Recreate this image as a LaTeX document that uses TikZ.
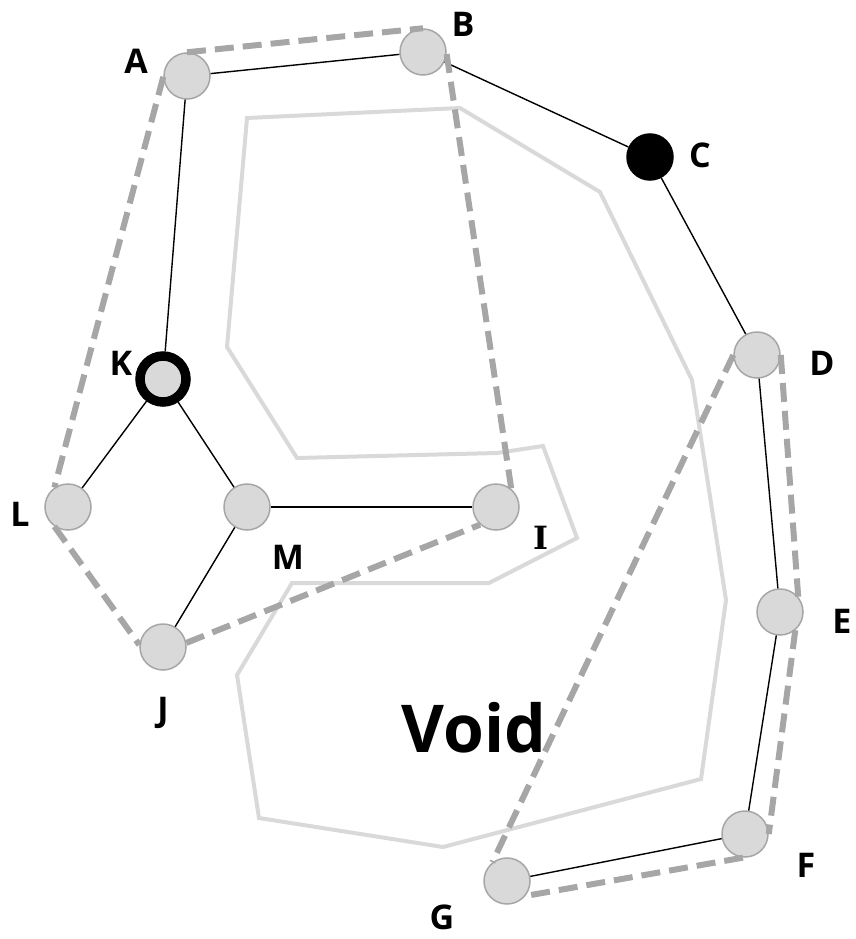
\documentclass[tikz,border=0pt]{standalone}
\usepackage{fontspec}
\setmainfont{Open Sans}
\newfontfamily\slabfont{DejaVu Serif}
\begin{document}
\begin{tikzpicture}[x=1pt,y=-1pt,
  vertex/.style={circle,minimum size=46pt,inner sep=0pt,fill=nodegray,draw=rimgray,line width=1.5pt},
  blackvertex/.style={vertex,fill=black,draw=black},
  rootvertex/.style={vertex,draw=black,line width=9.5pt,minimum size=46pt},
  link/.style={black,line width=1.4pt},
  route/.style={draw=routegray,line width=6pt,dash pattern=on 19pt off 9pt},
  voidline/.style={draw=voidgray,line width=4pt,line join=miter},
  lbl/.style={font=\bfseries\fontsize{34}{40}\selectfont,inner sep=0pt}
]
\definecolor{nodegray}{HTML}{D9D9D9}
\definecolor{rimgray}{HTML}{A6A6A6}
\definecolor{routegray}{HTML}{A6A6A6}
\definecolor{voidgray}{HTML}{D9D9D9}
\useasboundingbox (0,0) rectangle (855,939);

% outline of the empty region
\draw[voidline] (247,118) -- (460,108) -- (600,192) -- (692,380) -- (726,600)
  -- (701,779) -- (443,847) -- (259,818) -- (237,675) -- (292,583) -- (489,583)
  -- (577,538) -- (543,446) -- (497,453) -- (297,458) -- (227,347) -- cycle;
\node[font=\bfseries\fontsize{66}{78}\selectfont,inner sep=0pt] (void) at (474,728) {Void};

% vertices
\node[vertex] (A) at (187,76) {};
\node[vertex] (B) at (423,52) {};
\node[blackvertex] (C) at (650,157) {};
\node[vertex] (D) at (757,355) {};
\node[vertex] (E) at (780,612) {};
\node[vertex] (F) at (745,834) {};
\node[vertex] (G) at (507,881) {};
\node[vertex] (I) at (496,507) {};
\node[vertex] (J) at (163,647) {};
\node[rootvertex] (K) at (163,379) {};
\node[vertex] (L) at (68,507) {};
\node[vertex] (M) at (247,507) {};

% edges
\draw[link] (A) -- (B);
\draw[link] (B) -- (C);
\draw[link] (C) -- (D);
\draw[link] (D) -- (E);
\draw[link] (E) -- (F);
\draw[link] (F) -- (G);
\draw[link] (A) -- (K);
\draw[link] (K) -- (L);
\draw[link] (K) -- (M);
\draw[link] (M) -- (I);
\draw[link] (M) -- (J);

% routes around the void
\draw[route] (A.90) -- (B.90);
\draw[route] (B.355) -- (I.50);
\draw[route] (A.182) -- (L.125);
\draw[route] (L.235) -- (J.175);
\draw[route] (J.10) -- (I.228);
\draw[route] (D.180) -- (G.128);
\draw[route] (D.0) -- (E.40);
\draw[route] (E.-50) -- (F.0);
\draw[route] (F.265) -- (G.-39);

% labels
\node[lbl] (lA) at (136,61) {A};
\node[lbl] (lB) at (463,24) {B};
\node[lbl] (lC) at (700,155) {C};
\node[lbl] (lD) at (822,363) {D};
\node[lbl] (lE) at (842,621) {E};
\node[lbl] (lF) at (806,865) {F};
\node[lbl] (lG) at (442,917) {G};
\node[lbl,font=\slabfont\bfseries\fontsize{32}{38}\selectfont] (lI) at (541,538) {I};
\node[lbl] (lJ) at (163,713) {J};
\node[lbl] (lK) at (121,363) {K};
\node[lbl] (lL) at (20,514) {L};
\node[lbl] (lM) at (288,557) {M};
\end{tikzpicture}
\end{document}
